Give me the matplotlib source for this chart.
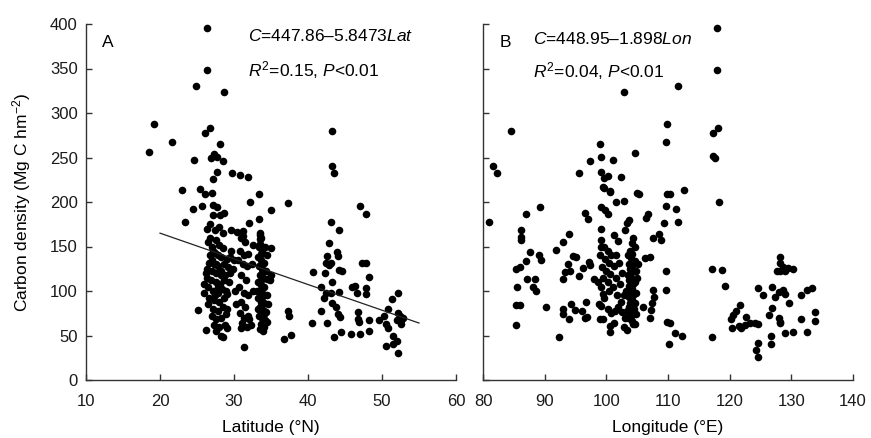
import matplotlib
matplotlib.use('Agg')
import matplotlib.pyplot as plt

plt.rcParams['font.family'] = ['Liberation Sans', 'DejaVu Sans']
plt.rcParams['mathtext.fontset'] = 'custom'
plt.rcParams['mathtext.rm'] = 'Liberation Sans'
plt.rcParams['mathtext.it'] = 'Liberation Sans:italic'
plt.rcParams['mathtext.default'] = 'regular'

# ---------------- data: panel A (latitude, carbon density) ----------------
lat_points = [
    (26.3,395),(26.3,348),(24.8,330),(28.7,324),(19.2,288),(18.5,256),(21.6,267),(26.8,283),
    (26.1,277),(28.1,265),(24.6,247),(26.9,249),(27.3,254),(27.7,251),(28.5,246),(27.7,234),
    (27.1,226),(29.7,233),(30.8,230),(31.9,228),(23.0,214),(25.4,215),(26.1,209),(27.0,210),
    (33.4,209),(23.4,178),(24.5,192),(25.7,196),(27.1,197),(27.7,194),(28.1,185),(28.6,188),
    (32.1,200),(35.0,191),(37.3,199),(32.0,176),(33.4,181),(35.0,148),(29.6,168),(30.4,166),
    (31.2,167),(31.2,162),(33.5,163),(33.5,158),(33.5,153),(32.6,152),(36.7,46),(37.7,51),
    (37.3,78),(37.4,72),(31.3,37),(25.2,79),(26.2,56),(28.5,48),
    # cluster ~27-29 N
    (26.5,155),(27.0,150),(27.5,157),(28.0,152),(28.5,148),(27.2,145),(26.8,140),(27.8,140),
    (28.3,138),(29.0,136),(29.5,138),(26.6,132),(27.3,130),(27.9,128),(28.6,130),(29.2,127),
    (26.4,125),(27.0,122),(27.6,120),(28.2,123),(28.8,118),(29.4,120),(26.3,115),(26.9,112),
    (27.5,110),(28.1,108),(28.7,112),(29.3,110),(26.5,105),(27.1,100),(27.8,98),(28.4,102),
    (29.0,97),(26.6,92),(27.3,90),(28.0,88),(28.6,92),(26.5,85),(27.2,80),(27.9,78),
    (28.5,82),(29.1,80),(27.0,72),(27.6,68),(28.3,70),(28.9,74),(27.3,62),(28.0,60),
    (28.8,62),(29.0,58),(27.5,55),(28.2,50),(26.3,170),(26.8,175),(27.4,168),(28.0,172),
    (27.2,185),(28.5,165),(26.7,160),(29.6,145),(30.0,135),(29.8,125),(26.2,120),(26.0,108),
    (25.9,98),(27.6,130),(27.0,135),(27.4,143),(28.2,118),(27.8,105),(28.9,100),(27.4,95),
    # cluster ~31 N
    (31.0,160),(31.5,155),(30.8,145),(31.4,140),(31.9,142),(30.5,135),(31.2,130),(31.8,128),
    (31.0,118),(31.6,112),(30.7,105),(31.3,98),(31.9,95),(31.0,88),(31.5,82),(30.8,75),
    (31.4,70),(31.9,72),(31.1,64),(31.7,60),(32.3,62),(30.9,58),(32.0,68),(32.5,100),
    (32.4,130),(30.2,100),(30.3,85),
    # cluster ~34 N
    (33.5,165),(33.7,160),(33.4,150),(33.8,145),(34.2,150),(33.3,138),(33.6,135),(34.0,132),
    (33.4,128),(33.8,125),(34.3,122),(33.5,118),(33.9,115),(34.4,113),(33.3,110),(33.7,107),
    (34.1,104),(33.5,100),(33.9,97),(34.4,95),(33.3,92),(33.7,88),(34.1,86),(33.5,82),
    (33.9,79),(34.3,76),(33.4,72),(33.8,70),(34.2,67),(33.6,63),(34.0,60),(33.5,57),
    (33.9,55),(34.4,65),(33.2,80),(34.6,85),(34.8,112),(35.0,118),(33.1,100),(34.5,140),
    (33.7,142),(33.8,120),(33.6,112),(33.8,93),(33.6,76),(34.0,74),(33.7,96),(33.9,131),
    # northern sites
    (43.3,280),(43.3,240),(43.5,233),(47.0,195),(47.8,186),(43.1,178),(44.2,169),(42.9,154),
    (42.5,139),(42.4,131),(43.9,144),(44.1,139),(43.1,131),(42.9,129),(40.7,121),(42.3,120),
    (44.2,124),(44.6,122),(43.2,110),(41.8,104),(42.4,98),(43.1,98),(44.2,99),(42.2,92),
    (43.3,86),(43.8,82),(44.1,74),(44.3,71),(41.8,77),(40.5,64),(42.5,64),(43.5,48),
    (44.4,54),(45.9,105),(46.4,106),(46.6,98),(47.8,103),(47.8,97),(47.3,131),(47.9,131),
    (48.3,116),(46.7,76),(46.7,68),(46.9,65),(48.3,67),(48.3,55),(45.8,52),(47.0,52),
    (49.6,67),(50.3,72),(50.5,63),(50.8,58),(50.8,80),(51.4,91),(52.2,98),(52.2,75),
    (52.4,72),(52.5,67),(52.6,63),(52.9,70),(51.5,50),(52.0,44),(51.5,41),(50.5,38),
    (52.2,30),(52.0,67),
]
fit_lat = [20, 55]
fit_carbon = [165, 64]

# ---------------- data: panel B (longitude, carbon density) ----------------
lon_points = [
    (118.0,395),(118.0,348),(102.9,324),(111.7,330),(84.5,280),(109.8,288),(118.1,283),(117.3,277),
    (109.6,267),(99.0,265),(104.6,255),(99.1,251),(101.1,247),(97.3,246),(117.3,252),(117.6,249),
    (81.7,240),(82.2,233),(95.6,233),(99.2,234),(100.3,229),(99.7,227),(102.3,228),(99.5,217),
    (100.6,212),(105.3,209),(110.3,209),(112.6,214),(81.0,178),(85.3,125),(86.0,127),(86.2,169),
    (86.2,161),(86.2,157),(86.9,186),(89.2,194),(87.6,144),(86.9,134),(89.0,141),(89.4,135),
    (87.2,114),(88.4,114),(85.5,104),(88.1,104),(88.6,100),(85.3,84),(86.0,84),(90.2,82),
    (85.3,62),(92.4,48),(91.8,146),(92.9,155),(93.9,164),(93.3,121),(93.0,114),(93.8,130),
    (94.6,139),(95.0,138),(94.1,122),(95.6,117),(96.2,126),(96.5,188),(97.1,181),(97.2,133),
    (97.4,129),(93.0,80),(93.0,74),(94.0,68),(94.3,85),(94.9,79),(96.0,78),(96.7,88),
    (96.6,70),(96.9,71),(99.0,68),(99.5,68),(98.8,85),(99.2,83),(98.0,114),(98.6,110),
    (99.1,104),(99.4,97),(99.6,92),
    (99.2,157),(99.6,150),(100.2,145),(99.0,140),(99.8,136),(100.5,132),(99.3,127),(100.0,123),
    (100.6,119),(99.5,115),(100.3,110),(99.2,150),(100.8,140),(101.2,128),(101.5,115),(101.0,105),
    (100.5,100),(101.8,96),(102.2,108),(101.6,140),(102.0,132),(102.5,120),(102.8,95),(102.3,88),
    (101.9,82),(101.4,78),(100.8,75),(100.3,80),(102.6,76),(103.0,70),
    (99.2,170),(99.2,194),(99.8,191),(100.3,187),(99.6,216),(100.6,211),(101.6,200),(102.8,201),
    (103.4,176),(103.7,180),(103.1,168),(101.3,163),(101.9,156),(104.3,159),(104.7,150),(104.1,154),
    (103.5,141),(104.0,137),(104.6,134),(103.6,130),(104.2,126),(104.8,122),(103.5,118),(104.1,114),
    (104.7,110),(103.6,106),(104.2,102),(104.8,98),(103.5,94),(104.1,90),(104.7,86),(103.6,82),
    (104.2,78),(104.8,74),(103.5,70),(104.1,66),(103.8,125),(104.4,108),(103.9,92),(104.5,80),
    (103.2,100),(105.0,115),(105.2,130),(103.8,145),(104.0,120),(103.9,100),(103.8,86),(104.0,72),
    (104.3,131),(103.7,112),(104.4,95),(103.3,78),(104.2,142),
    (100.6,61),(100.6,54),(101.2,64),(102.8,59),(103.4,56),(104.3,63),(104.7,63),(105.0,210),
    (106.7,186),(106.5,182),(106.3,137),(107.0,138),(105.9,82),(107.0,70),(107.2,79),(107.4,86),
    (107.7,93),(107.6,101),(107.5,159),(108.8,157),(108.5,164),(109.6,123),(109.6,101),(109.3,176),
    (109.6,196),(109.9,209),(111.3,192),(111.7,177),(109.9,65),(110.4,64),(111.1,53),(110.2,41),
    (112.2,50),(117.2,125),(118.8,124),(119.3,106),(118.2,200),(117.2,48),
    (120.2,69),(120.3,58),(121.0,77),(121.7,84),(121.8,58),(122.6,71),(121.5,61),(123.3,64),
    (124.1,64),(124.6,63),(124.6,103),(125.4,96),(124.6,42),(124.3,34),(124.6,26),(126.4,73),
    (126.9,81),(126.7,49),(126.7,41),(126.9,104),(127.3,93),(128.1,138),(128.2,131),(127.6,123),
    (128.2,123),(129.0,123),(128.6,127),(129.4,126),(130.2,125),(128.0,99),(128.6,101),(129.0,97),
    (129.6,87),(128.0,70),(128.1,65),(128.1,64),(128.9,53),(130.2,54),(131.6,96),(132.6,101),
    (133.3,103),(131.6,69),(132.6,54),(133.8,76),(133.8,66),(122.5,62),(120.5,73),
]

lat_ticks = [10, 20, 30, 40, 50, 60]
lon_ticks = [80, 90, 100, 110, 120, 130, 140]
carbon_ticks = [0, 50, 100, 150, 200, 250, 300, 350, 400]

fig = plt.figure(figsize=(8.71, 4.38), dpi=100)
axA = fig.add_axes([86/871, 58/438, 370/871, 356/438])
axB = fig.add_axes([483/871, 58/438, 370/871, 356/438])

def style(ax, xticks):
    for s in ['top', 'right']:
        ax.spines[s].set_visible(False)
    for s in ['left', 'bottom']:
        ax.spines[s].set_linewidth(1.0)
        ax.spines[s].set_color('#333333')
    ax.set_xlim(xticks[0], xticks[-1])
    ax.set_ylim(0, 400)
    ax.set_xticks(xticks)
    ax.set_yticks(carbon_ticks)
    ax.tick_params(direction='in', length=4, width=1, colors='#333333',
                   labelcolor='#1a1a1a', labelsize=12)
    ax.tick_params(axis='x', pad=10)
    ax.tick_params(axis='y', pad=6)

xa, ya = zip(*lat_points)
axA.scatter(xa, ya, s=30, c='black', linewidths=0, zorder=3)
axA.plot(fit_lat, fit_carbon, color='#222222', lw=0.9, zorder=4)
style(axA, lat_ticks)
axA.set_xlabel('Latitude (°N)', fontsize=12.5, labelpad=8)
axA.set_ylabel('Carbon density (Mg C hm$^{-2}$)', fontsize=12.5, labelpad=12)
axA.text(0.043, 0.947, 'A', transform=axA.transAxes, fontsize=12.5, va='center')
axA.text(0.438, 0.966, r'$\mathit{C}$=447.86–5.8473$\mathit{Lat}$', transform=axA.transAxes,
         fontsize=12.5, va='center')
axA.text(0.438, 0.871, r'$\mathit{R}^{2}$=0.15, $\mathit{P}$<0.01', transform=axA.transAxes,
         fontsize=12.5, va='center')

xb, yb = zip(*lon_points)
axB.scatter(xb, yb, s=30, c='black', linewidths=0, zorder=3)
style(axB, lon_ticks)
axB.tick_params(axis='y', labelleft=False)
axB.set_xlabel('Longitude (°E)', fontsize=12.5, labelpad=8)
axB.text(0.046, 0.949, 'B', transform=axB.transAxes, fontsize=12.5, va='center')
axB.text(0.134, 0.958, r'$\mathit{C}$=448.95–1.898$\mathit{Lon}$', transform=axB.transAxes,
         fontsize=12.5, va='center')
axB.text(0.134, 0.868, r'$\mathit{R}^{2}$=0.04, $\mathit{P}$<0.01', transform=axB.transAxes,
         fontsize=12.5, va='center')

fig.savefig('out.png', dpi=100)
